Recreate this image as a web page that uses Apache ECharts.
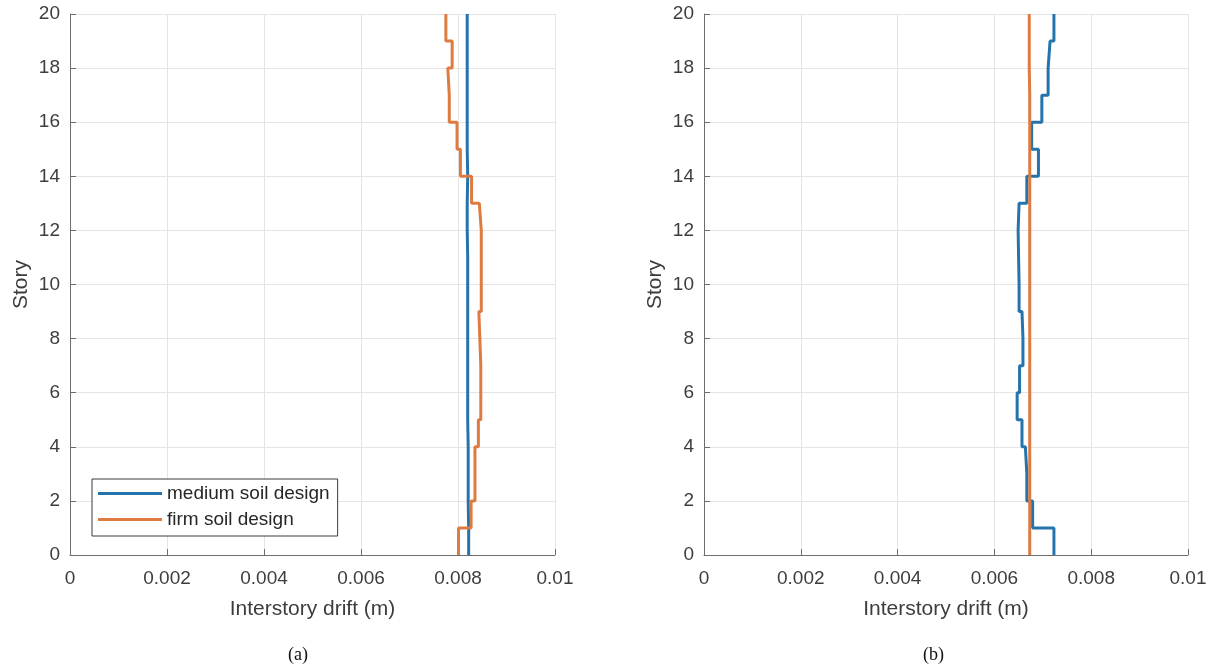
<!DOCTYPE html>
<html>
<head>
<meta charset="utf-8">
<script src="https://cdn.jsdelivr.net/npm/echarts@6/dist/echarts.min.js"></script>
<style>
html,body{margin:0;padding:0;background:#fff;}
#main{width:1220px;height:670px;}
</style>
</head>
<body>
<div id="main"></div>
<script>
// Story intervals: index i spans story i to i+1 (0-1 ... 19-20)
const stories = [0,1,2,3,4,5,6,7,8,9,10,11,12,13,14,15,16,17,18,19,20];
const seriesNames = ['medium soil design', 'firm soil design'];
const xTicks = [0, 0.002, 0.004, 0.006, 0.008, 0.01];
const yTicks = [0, 2, 4, 6, 8, 10, 12, 14, 16, 18, 20];
const panelLabels = ['(a)', '(b)'];

// Panel (a)
const mediumA = [0.00822,0.00821,0.00821,0.00821,0.00820,0.00820,0.00820,0.00820,0.00820,0.00820,
                 0.00820,0.00819,0.00819,0.00820,0.00819,0.00819,0.00819,0.00819,0.00819,0.00819];
const firmA   = [0.00801,0.00827,0.00835,0.00835,0.00842,0.00847,0.00847,0.00845,0.00843,0.00848,
                 0.00848,0.00848,0.00844,0.00828,0.00805,0.00798,0.00782,0.00779,0.00788,0.00775];
// Panel (b)
const mediumB = [0.00723,0.00679,0.00667,0.00664,0.00657,0.00647,0.00652,0.00659,0.00657,0.00651,
                 0.00650,0.00649,0.00651,0.00667,0.00691,0.00677,0.00698,0.00711,0.00715,0.00723];
const firmB   = [0.00673,0.00673,0.00673,0.00673,0.00673,0.00673,0.00673,0.00673,0.00673,0.00673,
                 0.00673,0.00673,0.00673,0.00673,0.00673,0.00673,0.00673,0.00672,0.00672,0.00672];

function steps(vals){
  const pts = [];
  vals.forEach((v,i)=>{ pts.push([v, stories[i]]); pts.push([v, stories[i+1]]); });
  return pts;
}

const BLUE = '#2573ad';
const ORANGE = '#de7b41';
const AXIS = '#6e6e6e';
const TEXT = '#3d3d3d';
const GRIDC = '#e4e4e4';
const FONT = 'Liberation Sans, Arial, sans-serif';

function xAxisCfg(idx){
  return {
    type:'value', gridIndex: idx, min: xTicks[0], max: xTicks[xTicks.length-1], interval: 0.002,
    name:'Interstory drift (m)', nameLocation:'middle', nameGap: 44,
    nameTextStyle:{fontFamily:FONT, fontSize:21, color:TEXT},
    axisLine:{show:true, onZero:false, lineStyle:{color:AXIS, width:1}},
    axisTick:{show:true, inside:true, length:6, lineStyle:{color:AXIS}},
    axisLabel:{fontFamily:FONT, fontSize:19, color:TEXT, margin:14,
      formatter: v => String(+v.toFixed(4))},
    splitLine:{show:true, lineStyle:{color:GRIDC, width:1}}
  };
}
function yAxisCfg(idx){
  return {
    type:'value', gridIndex: idx, min: yTicks[0], max: yTicks[yTicks.length-1], interval: 2,
    name:'Story', nameLocation:'middle', nameGap: 38,
    nameTextStyle:{fontFamily:FONT, fontSize:21, color:TEXT},
    axisLine:{show:true, onZero:false, lineStyle:{color:AXIS, width:1}},
    axisTick:{show:true, inside:true, length:6, lineStyle:{color:AXIS}},
    axisLabel:{fontFamily:FONT, fontSize:19, color:TEXT, margin:10},
    splitLine:{show:true, lineStyle:{color:GRIDC, width:1}}
  };
}
function lineSeries(name, color, data, idx){
  return {
    name, type:'line', xAxisIndex: idx, yAxisIndex: idx, data: steps(data),
    showSymbol:false, symbol:'none', lineStyle:{color, width:3}, itemStyle:{color},
    z: 3
  };
}

const chart = echarts.init(document.getElementById('main'), null, {renderer:'canvas'});
chart.setOption({
  animation:false,
  backgroundColor:'#fff',
  grid:[
    {left:70, top:14, width:485, height:541},
    {left:704, top:14, width:484, height:541}
  ],
  xAxis:[xAxisCfg(0), xAxisCfg(1)],
  yAxis:[yAxisCfg(0), yAxisCfg(1)],
  legend:{
    orient:'vertical', left:92, top:479,
    data: seriesNames.map(n=>({name:n, icon:'rect'})),
    itemWidth:64, itemHeight:3, itemGap:7,
    padding:[5,8,7,6],
    backgroundColor:'#fff', borderColor:'#3a3a3a', borderWidth:1, borderRadius:0,
    textStyle:{fontFamily:FONT, fontSize:19, color:'#262626'},
    selectedMode:false
  },
  series:[
    lineSeries(seriesNames[0], BLUE, mediumA, 0),
    lineSeries(seriesNames[1], ORANGE, firmA, 0),
    lineSeries(seriesNames[0], BLUE, mediumB, 1),
    lineSeries(seriesNames[1], ORANGE, firmB, 1)
  ],
  graphic:[
    {type:'text', left:288, top:646, style:{text:panelLabels[0], font:'18px "Liberation Serif", "DejaVu Serif", serif', fill:'#111'}},
    {type:'text', left:923, top:646, style:{text:panelLabels[1], font:'18px "Liberation Serif", "DejaVu Serif", serif', fill:'#111'}}
  ]
});
</script>
</body>
</html>
